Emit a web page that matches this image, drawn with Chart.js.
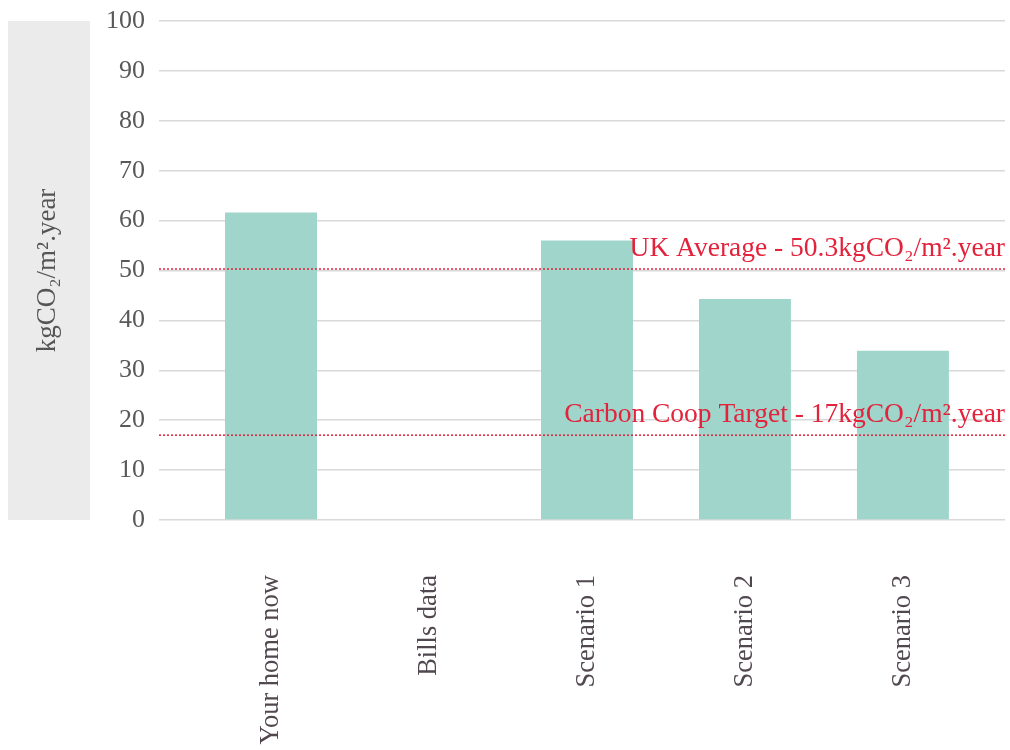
<!DOCTYPE html>
<html>
<head>
<meta charset="utf-8">
<script src="https://cdn.jsdelivr.net/npm/chart.js@4.4.1/dist/chart.umd.min.js"></script>
<style>
  html, body { margin: 0; padding: 0; background: #ffffff; }
  #wrap { width: 1010px; height: 750px; }
</style>
</head>
<body>
<div id="wrap"><canvas id="c" width="1010" height="750"></canvas></div>
<script>
// Carbon emissions per floor area, by case
const categories = ['Your home now', 'Bills data', 'Scenario 1', 'Scenario 2', 'Scenario 3'];
const emissions = [61.6, null, 56.0, 44.3, 33.9];

// Reference levels and their captions
const refValues = [50.3, 17];
const refLabels = ['UK Average - 50.3kgCO\u2082/m\u00B2.year', 'Carbon Coop Target - 17kgCO\u2082/m\u00B2.year'];

const yTicks = [0, 10, 20, 30, 40, 50, 60, 70, 80, 90, 100];
const yTitle = 'kgCO\u2082/m\u00B2.year';

const SERIF = '"Liberation Serif", "DejaVu Serif", serif';
const X_MIN = -0.709, X_MAX = 4.646;

const barData = emissions.map((v, i) => ({ x: i, y: v }));
const refDatasets = refValues.map(v => ({
  type: 'line',
  data: [{ x: X_MIN, y: v }, { x: X_MAX, y: v }],
  borderColor: '#e3223c',
  borderWidth: 1.5,
  borderDash: [2, 2],
  pointRadius: 0,
  fill: false,
  order: 0
}));

// Grey panel behind the y-axis title
const titlePanel = {
  id: 'titlePanel',
  beforeDraw(chart) {
    const { ctx, chartArea } = chart;
    ctx.save();
    ctx.fillStyle = '#ebebeb';
    ctx.fillRect(8, chartArea.top, 82, chartArea.bottom - chartArea.top);
    ctx.restore();
  }
};

// Captions above the reference lines, right-aligned to the plot edge
const refCaptions = {
  id: 'refCaptions',
  afterDatasetsDraw(chart) {
    const { ctx, chartArea, scales } = chart;
    ctx.save();
    ctx.font = '27.5px ' + SERIF;
    ctx.fillStyle = '#e3223c';
    ctx.textAlign = 'right';
    ctx.textBaseline = 'alphabetic';
    refValues.forEach((v, i) => {
      const y = scales.y.getPixelForValue(v);
      ctx.fillText(refLabels[i], chartArea.right, y - 13);
    });
    ctx.restore();
  }
};

new Chart(document.getElementById('c'), {
  type: 'bar',
  data: {
    datasets: [
      {
        type: 'bar',
        data: barData,
        backgroundColor: '#9fd5cb',
        borderWidth: 0,
        categoryPercentage: 1,
        barPercentage: 0.582,
        order: 1
      },
      ...refDatasets
    ]
  },
  options: {
    responsive: false,
    animation: false,
    layout: { padding: { top: 21, right: 5, bottom: 0, left: 0 } },
    plugins: {
      legend: { display: false },
      tooltip: { enabled: false }
    },
    scales: {
      x: {
        type: 'linear',
        offset: false,
        min: X_MIN,
        max: X_MAX,
        grid: { display: false },
        border: { display: false },
        afterBuildTicks(scale) {
          scale.ticks = categories.map((_, i) => ({ value: i }));
        },
        afterFit(scale) { scale.height = 230; },
        ticks: {
          autoSkip: false,
          minRotation: 90,
          maxRotation: 90,
          padding: 47,
          color: '#51474f',
          font: { family: SERIF, size: 26.5 },
          callback: (v) => categories[v] ?? ''
        }
      },
      y: {
        min: 0,
        max: 100,
        afterBuildTicks(scale) {
          scale.ticks = yTicks.map(v => ({ value: v }));
        },
        afterFit(scale) {
          scale.width = 159;
          scale.paddingTop = 0;
          scale.paddingBottom = 0;
        },
        grid: { color: '#d9d9d9', lineWidth: 1.5, drawTicks: false },
        border: { display: false },
        ticks: {
          padding: 14,
          color: '#595959',
          font: { family: SERIF, size: 26 }
        },
        title: {
          display: true,
          text: yTitle,
          color: '#555555',
          font: { family: SERIF, size: 27 },
          padding: { top: 32, bottom: 0 }
        }
      }
    }
  },
  plugins: [titlePanel, refCaptions]
});
</script>
</body>
</html>
